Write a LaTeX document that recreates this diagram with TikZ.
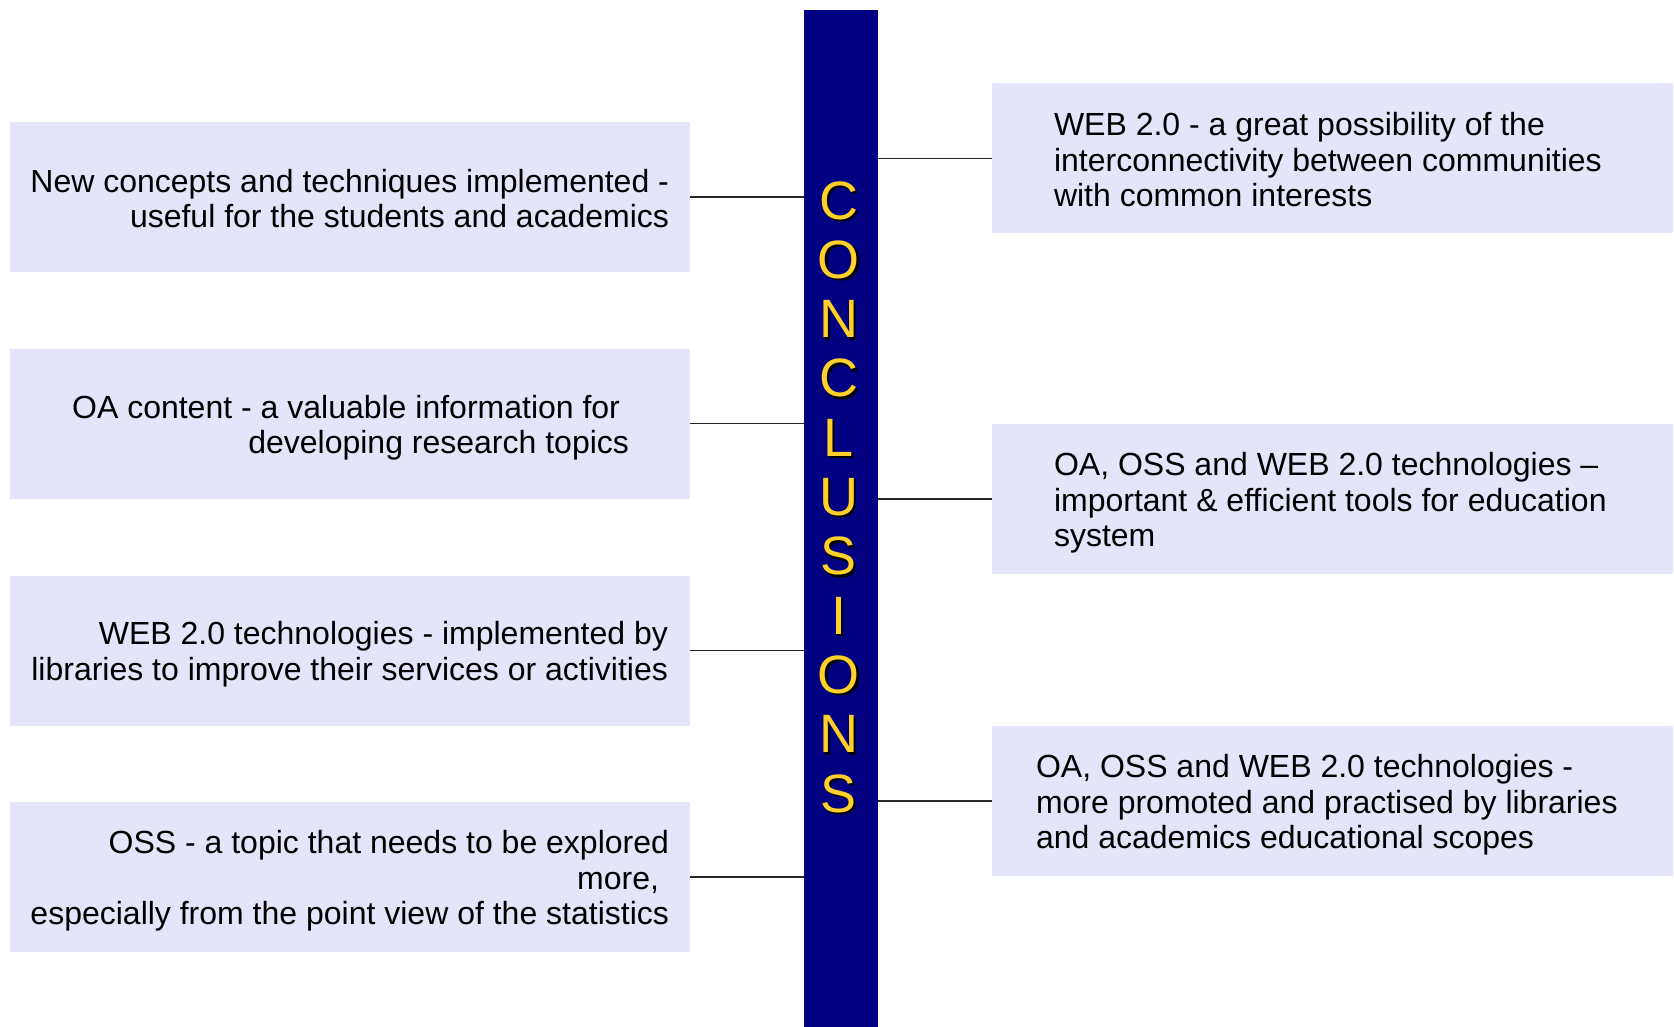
\documentclass[tikz,border=0pt]{standalone}
\usepackage{fontspec}
\setmainfont{Liberation Sans}
\begin{document}
\begin{tikzpicture}[x=1pt,y=-1pt,
    riquadro/.style={fill=conclRiquadro,inner sep=0pt,
                     minimum width=680pt,minimum height=150pt},
    testo/.style={inner sep=0pt,font=\fontsize{32}{35.5}\selectfont},
    lettera/.style={inner sep=0pt,font=\fontsize{54}{54}\selectfont},
    filo/.style={draw=black!85,line width=1.2pt}]
  \definecolor{conclBarra}{HTML}{000080}
  \definecolor{conclRiquadro}{HTML}{E4E4FA}
  \definecolor{conclOro}{HTML}{FFD02A}
  \definecolor{conclOmbra}{HTML}{000000}
  \useasboundingbox (0,0) rectangle (1674,1027);

  % Barra centrale con la scritta verticale.
  \node[fill=conclBarra,inner sep=0pt,minimum width=74pt,minimum height=1017pt]
    (barra) at (841,518.5) {};
  \foreach \ch [count=\i] in {C,O,N,C,L,U,S,I,O,N,S}{
    \node[lettera,text=conclOmbra] (ombra\i) at (841,{143.7+59.3*\i}) {\ch};
    \node[lettera,text=conclOro] (lettera\i) at (838.5,{141.2+59.3*\i}) {\ch};
  }

  % Riquadri a sinistra, testo allineato a destra.
  \node[riquadro] (sx1) at (350,197) {};
  \node[riquadro] (sx2) at (350,423.5) {};
  \node[riquadro] (sx3) at (350,650.5) {};
  \node[riquadro] (sx4) at (350,877) {};
  \node[testo,align=right,anchor=east] (tsx1) at ([xshift=-21pt,yshift=-1.5pt]sx1.east)
    {New concepts and techniques implemented -\\useful for the students and academics};
  \node[testo,align=right,anchor=east] (tsx2) at ([xshift=-61pt,yshift=-4pt]sx2.east)
    {OA content - a valuable information for\makebox[9pt]{}\\developing research topics};
  \node[testo,align=right,anchor=east] (tsx3) at ([xshift=-22pt,yshift=-3.5pt]sx3.east)
    {WEB 2.0 technologies - implemented by\\libraries to improve their services or activities};
  \node[testo,align=right,anchor=east] (tsx4) at ([xshift=-21pt,yshift=-4pt]sx4.east)
    {OSS - a topic that needs to be explored\\more,\makebox[10pt]{}\\especially from the point view of the statistics};

  % Riquadri a destra, testo allineato a sinistra.
  \node[riquadro,minimum width=681pt] (dx1) at (1332.5,158.5) {};
  \node[riquadro,minimum width=681pt] (dx2) at (1332.5,499) {};
  \node[riquadro,minimum width=681pt] (dx3) at (1332.5,801) {};
  \node[testo,align=left,anchor=west] (tdx1) at ([xshift=62pt,yshift=-1.5pt]dx1.west)
    {WEB 2.0 - a great possibility of the\\interconnectivity between communities\\with common interests};
  \node[testo,align=left,anchor=west] (tdx2) at ([xshift=62pt,yshift=-4pt]dx2.west)
    {OA, OSS and WEB 2.0 technologies --\\important \& efficient tools for education\\system};
  \node[testo,align=left,anchor=west] (tdx3) at ([xshift=44pt,yshift=-4pt]dx3.west)
    {OA, OSS and WEB 2.0 technologies -\\more promoted and practised by libraries\\and academics educational scopes};

  \foreach \n in {sx1,sx2,sx3,sx4}
    \draw[filo] (\n.east) -- (\n.east -| barra.west);
  \foreach \n in {dx1,dx2,dx3}
    \draw[filo] (\n.west) -- (\n.west -| barra.east);
\end{tikzpicture}
\end{document}
